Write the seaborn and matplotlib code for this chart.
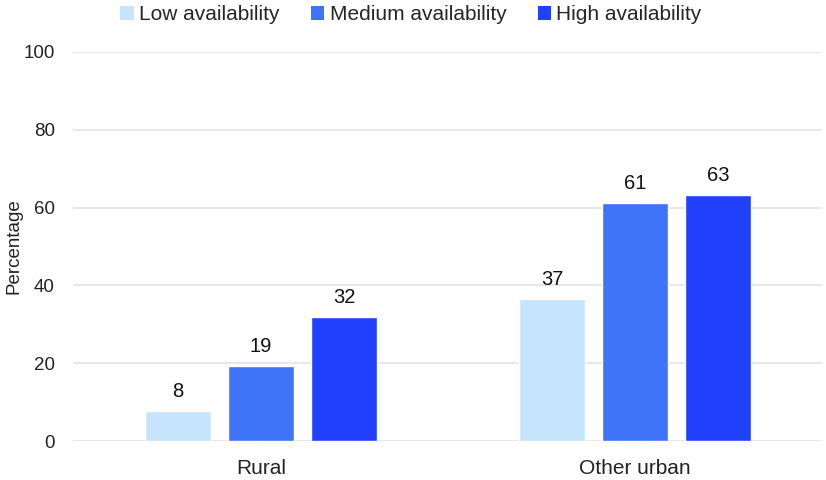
import matplotlib
matplotlib.use("Agg")
import matplotlib.pyplot as plt
import seaborn as sns
import pandas as pd
from matplotlib.patches import Patch

categories = ["Rural", "Other urban"]
series = ["Low availability", "Medium availability", "High availability"]
low = [7.8, 36.6]
medium = [19.4, 61.3]
high = [31.9, 63.3]
labels_low = ["8", "37"]
labels_medium = ["19", "61"]
labels_high = ["32", "63"]
yticks = [0, 20, 40, 60, 80, 100]
colors = ["#C6E4FB", "#3F74F9", "#2140FB"]

rows = []
for s, vals in zip(series, [low, medium, high]):
    for c, v in zip(categories, vals):
        rows.append({"cat": c, "series": s, "value": v})
df = pd.DataFrame(rows)

sns.set_theme(style="white")
plt.rcParams["font.family"] = ["Liberation Sans", "DejaVu Sans"]

fig = plt.figure(figsize=(8.26, 4.8), dpi=100)
ax = fig.add_axes([73/826, 1-441/480, (822-73)/826, (441-52)/480])
sns.barplot(data=df, x="cat", y="value", hue="series", order=categories,
            hue_order=series, palette=colors, width=0.666, gap=0.2,
            saturation=1, ax=ax, legend=False, errorbar=None)

for cont, labs in zip(ax.containers, [labels_low, labels_medium, labels_high]):
    ax.bar_label(cont, labels=labs, padding=7, fontsize=14.5, color="#111111")

ax.set_ylim(0, 100)
ax.set_xlim(-0.503, 1.5)
ax.set_yticks(yticks)
ax.set_yticklabels([str(t) for t in yticks], fontsize=13.5, color="#222222")
ax.tick_params(axis="x", labelsize=15, colors="#222222", length=0, pad=13)
ax.tick_params(axis="y", length=0, pad=13)
ax.set_xlabel("")
ax.set_ylabel("Percentage", fontsize=13.5, color="#222222")
ax.yaxis.set_label_coords(-0.068, 0.5)
ax.yaxis.grid(True, color="#E1E3E6", linewidth=1.2)
ax.set_axisbelow(True)
for sp in ax.spines.values():
    sp.set_visible(False)

handles = [Patch(facecolor=c, edgecolor="none") for c in colors]
fig.legend(handles, series, loc="upper center", bbox_to_anchor=(411/826, 1.028),
           ncol=3, frameon=False, fontsize=15, handlelength=0.65, handleheight=0.65,
           handletextpad=0.25, columnspacing=1.5)

fig.savefig("out.png", dpi=100)
